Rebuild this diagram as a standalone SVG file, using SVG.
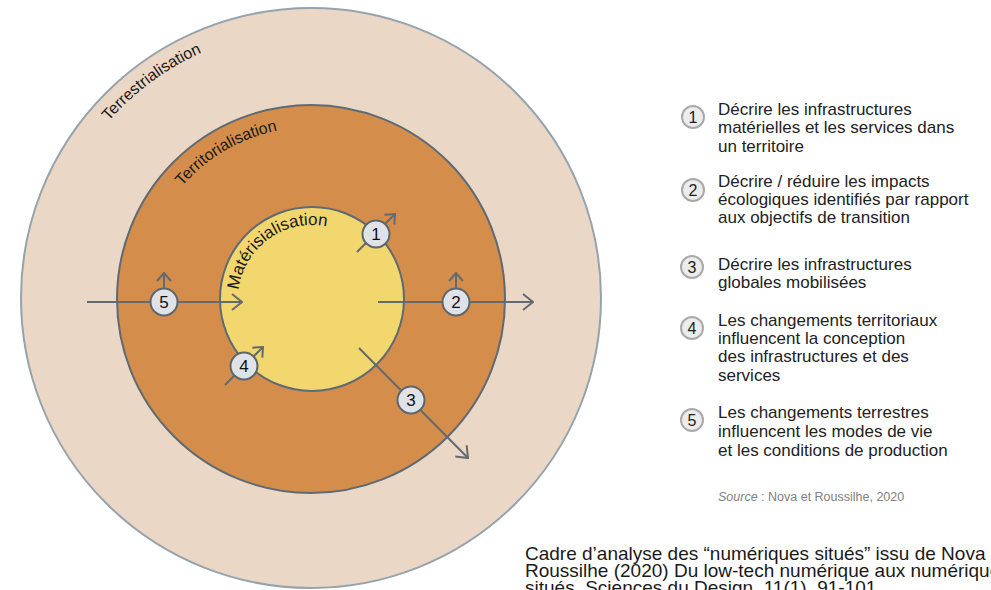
<svg xmlns="http://www.w3.org/2000/svg" width="991" height="590" viewBox="0 0 991 590">
<style>
.ring{stroke-width:2}
.lbl{font-family:"Liberation Sans",Arial,sans-serif;font-size:16px;fill:#1a1a1a}
.conn{stroke:#646a70;stroke-width:2;fill:none}
.badge{fill:#dfe3e8;stroke:#5e666d;stroke-width:2}
.bnum{font-family:"Liberation Sans",Arial,sans-serif;font-size:17px;fill:#111;text-anchor:middle}
.lbadge{fill:#ececec;stroke:#a9a9a9;stroke-width:2}
.lnum{font-family:"Liberation Sans",Arial,sans-serif;font-size:16px;fill:#222;text-anchor:middle}
.leg{font-family:"Liberation Sans",Arial,sans-serif;font-size:17px;fill:#222}
.src{font-family:"Liberation Sans",Arial,sans-serif;font-size:12.5px;fill:#808080}
.cap{font-family:"Liberation Sans",Arial,sans-serif;font-size:19px;fill:#1a1a1a}
</style>
<defs>
<marker id="ah" viewBox="0 0 12 18" markerWidth="12" markerHeight="18" refX="11" refY="9" orient="auto" markerUnits="userSpaceOnUse">
<path d="M1,1 L11,9 L1,17" fill="none" stroke="#646a70" stroke-width="2"/>
</marker>
<marker id="ahs" viewBox="0 0 10 16" markerWidth="10" markerHeight="16" refX="9" refY="8" orient="auto" markerUnits="userSpaceOnUse">
<path d="M1,1 L9,8 L1,15" fill="none" stroke="#646a70" stroke-width="2"/>
</marker>
<path id="pOuter" d="M 42 299 A 270 270 0 0 1 582 299"/>
<path id="pMid" d="M 140 299 A 172 172 0 0 1 484 299"/>
<path id="pIn" d="M 238 299 A 74 74 0 0 1 386 299"/>
</defs>

<g id="terrestrialisation">
<circle class="ring" cx="311" cy="298" r="290" fill="#ebd7c5" stroke="#95a3ad"/>
<text class="lbl"><textPath href="#pOuter" startOffset="194">Terrestrialisation</textPath></text>
</g>
<g id="territorialisation">
<circle class="ring" cx="311" cy="299" r="194" fill="#d48d4a" stroke="#5e6a74"/>
<text class="lbl"><textPath href="#pMid" startOffset="123">Territorialisation</textPath></text>
</g>
<g id="materialisation">
<circle class="ring" cx="312" cy="299" r="92" fill="#f2d66e" stroke="#5e6a74"/>
<text class="lbl" style="font-size:17px"><textPath href="#pIn" startOffset="9">Matérisialisation</textPath></text>
</g>

<g id="connectors">
<line class="conn" x1="87" y1="302" x2="242" y2="302" marker-end="url(#ah)"/>
<line class="conn" x1="164" y1="289" x2="164" y2="273" marker-end="url(#ahs)"/>
<line class="conn" x1="378" y1="302" x2="533" y2="302" marker-end="url(#ah)"/>
<line class="conn" x1="456" y1="289" x2="456" y2="273" marker-end="url(#ahs)"/>
<line class="conn" x1="357" y1="252" x2="395" y2="214" marker-end="url(#ahs)"/>
<line class="conn" x1="225" y1="385" x2="263" y2="347" marker-end="url(#ahs)"/>
<line class="conn" x1="359" y1="348" x2="468" y2="458" marker-end="url(#ah)"/>
</g>

<g id="b1"><circle class="badge" cx="376" cy="234" r="13.5"/><text class="bnum" x="376" y="240">1</text></g>
<g id="b2"><circle class="badge" cx="456" cy="302" r="13.5"/><text class="bnum" x="456" y="308">2</text></g>
<g id="b3"><circle class="badge" cx="411" cy="400" r="13.5"/><text class="bnum" x="411" y="406">3</text></g>
<g id="b4"><circle class="badge" cx="244" cy="366" r="13.5"/><text class="bnum" x="244" y="372">4</text></g>
<g id="b5"><circle class="badge" cx="164" cy="302" r="13.5"/><text class="bnum" x="164" y="308">5</text></g>

<g id="legend1">
<circle class="lbadge" cx="693" cy="117" r="11"/><text class="lnum" x="693" y="123">1</text>
<text class="leg" x="718" y="115">Décrire les infrastructures</text>
<text class="leg" x="718" y="133">matérielles et les services dans</text>
<text class="leg" x="718" y="152">un territoire</text>
</g>
<g id="legend2">
<circle class="lbadge" cx="693" cy="190" r="11"/><text class="lnum" x="693" y="196">2</text>
<text class="leg" x="718" y="187">Décrire / réduire les impacts</text>
<text class="leg" x="718" y="205">écologiques identifiés par rapport</text>
<text class="leg" x="718" y="223">aux objectifs de transition</text>
</g>
<g id="legend3">
<circle class="lbadge" cx="692" cy="267" r="11"/><text class="lnum" x="692" y="273">3</text>
<text class="leg" x="718" y="270">Décrire les infrastructures</text>
<text class="leg" x="718" y="288">globales mobilisées</text>
</g>
<g id="legend4">
<circle class="lbadge" cx="692" cy="328" r="11"/><text class="lnum" x="692" y="334">4</text>
<text class="leg" x="718" y="326">Les changements territoriaux</text>
<text class="leg" x="718" y="344">influencent la conception</text>
<text class="leg" x="718" y="362">des infrastructures et des</text>
<text class="leg" x="718" y="381">services</text>
</g>
<g id="legend5">
<circle class="lbadge" cx="692" cy="420" r="11"/><text class="lnum" x="692" y="426">5</text>
<text class="leg" x="718" y="418">Les changements terrestres</text>
<text class="leg" x="718" y="437">influencent les modes de vie</text>
<text class="leg" x="718" y="456">et les conditions de production</text>
</g>
<text class="src" x="718" y="501"><tspan font-style="italic">Source</tspan> : Nova et Roussilhe, 2020</text>

<g id="caption">
<text class="cap" x="525" y="560">Cadre d’analyse des “numériques situés” issu de Nova</text>
<text class="cap" x="525" y="577">Roussilhe (2020) Du low-tech numérique aux numériques</text>
<text class="cap" x="525" y="594">situés. Sciences du Design, 11(1), 91-101.</text>
</g>
</svg>
